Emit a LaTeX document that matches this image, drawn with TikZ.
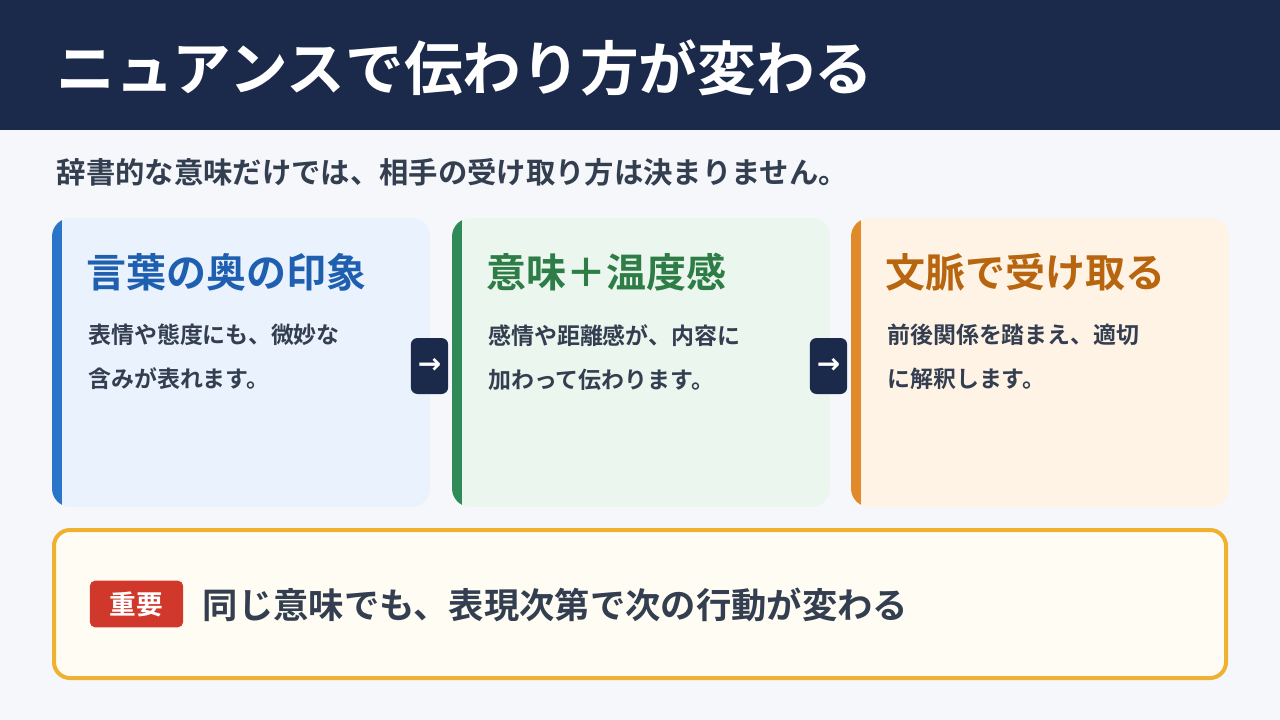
\documentclass[tikz,border=0pt]{standalone}
\usepackage{fontspec}
\setmainfont{Noto Sans CJK JP}
\newfontfamily\jpb{Noto Sans CJK JP Bold}
\newfontfamily\arr{DejaVu Sans}
\definecolor{navy}{HTML}{1B2A4A}
\definecolor{bg}{HTML}{F5F7FB}
\definecolor{txt}{HTML}{333F50}
\definecolor{bA}{HTML}{2A74C9}\definecolor{fA}{HTML}{EAF2FD}\definecolor{tA}{HTML}{1F5FAF}
\definecolor{bB}{HTML}{2E8B57}\definecolor{fB}{HTML}{EBF6EF}\definecolor{tB}{HTML}{2E7D46}
\definecolor{bC}{HTML}{E08A2A}\definecolor{fC}{HTML}{FFF3E6}\definecolor{tC}{HTML}{B8650F}
\definecolor{gold}{HTML}{F0B030}\definecolor{cream}{HTML}{FFFCF3}\definecolor{red}{HTML}{D0382C}
\begin{document}
\begin{tikzpicture}[x=0.75pt,y=-0.75pt,
  ctitle/.style={anchor=west,font=\jpb\fontsize{30}{34}\selectfont},
  cbody/.style={anchor=north west,align=left,text=txt,font=\jpb\fontsize{17.2}{33}\selectfont,inner sep=0pt},
  arrbox/.style={fill=navy,rounded corners=5pt,minimum width=28pt,minimum height=42pt,inner sep=0pt,text=white,font=\arr\bfseries\fontsize{21}{21}\selectfont}]
\useasboundingbox (0,0) rectangle (1280,720);
\fill[bg] (0,0) rectangle (1280,720);
\fill[navy] (0,0) rectangle (1280,130);
\node[anchor=west,text=white,font=\jpb\fontsize{44}{50}\selectfont] (title) at (52,68) {ニュアンスで伝わり方が変わる};
\node[anchor=west,text=txt,font=\jpb\fontsize{22}{26}\selectfont] (sub) at (52,172) {辞書的な意味だけでは、相手の受け取り方は決まりません。};
% cards
\foreach \x/\c in {52/A,452/B,851/C}{
  \begin{scope}
  \clip[rounded corners=14pt] (\x,218) rectangle ++(378,289);
  \fill[f\c] (\x,218) rectangle ++(378,289);
  \fill[b\c] (\x,218) rectangle ++(10,289);
  \end{scope}
}
\node[ctitle,text=tA] (t1) at (82,272) {言葉の奥の印象};
\node[cbody] (b1) at (88,324) {表情や態度にも、微妙な\\含みが表れます。};
\node[ctitle,text=tB] (t2) at (482,272) {意味＋温度感};
\node[cbody] (b2) at (488,324) {感情や距離感が、内容に\\加わって伝わります。};
\node[ctitle,text=tC] (t3) at (881,272) {文脈で受け取る};
\node[cbody] (b3) at (887,324) {前後関係を踏まえ、適切\\に解釈します。};
\node[arrbox] (a1) at (429.5,366) {→};
\node[arrbox] (a2) at (828.5,366) {→};
% bottom
\draw[gold,line width=3pt,fill=cream,rounded corners=12pt] (54,530) rectangle (1226,678);
\node[fill=red,rounded corners=4pt,text=white,minimum width=70pt,minimum height=35pt,inner sep=0pt,font=\jpb\fontsize{20}{22}\selectfont] (badge) at (136.5,604) {重要};
\node[anchor=west,text=txt,font=\jpb\fontsize{26.5}{30}\selectfont] (msg) at (198,605) {同じ意味でも、表現次第で次の行動が変わる};
\end{tikzpicture}
\end{document}
